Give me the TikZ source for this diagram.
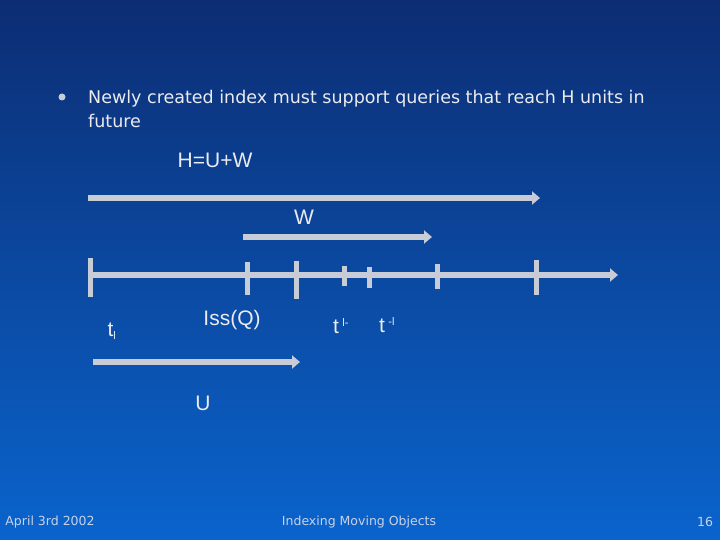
\documentclass[tikz,border=0pt]{standalone}
\usepackage{fontspec}
\setmainfont{Liberation Sans}
\newfontfamily\verd{DejaVu Sans}
\begin{document}
\begin{tikzpicture}[x=1pt,y=-1pt,
  arr/.style={line width=6.5pt,draw=barc,-{Triangle[length=8pt,width=13pt]}},
  tick/.style={line width=5pt,draw=barc},
  lab/.style={text=labc,font=\fontsize{21}{23}\selectfont,inner sep=0pt},
  foot/.style={text=footc,font=\verd\fontsize{12.5}{13}\selectfont,inner sep=0pt}]
\usetikzlibrary{arrows.meta}
\definecolor{barc}{RGB}{200,204,214}
\definecolor{labc}{RGB}{235,235,240}
\definecolor{footc}{RGB}{200,210,230}
\definecolor{topc}{RGB}{12,45,115}
\definecolor{botc}{RGB}{10,100,205}
\useasboundingbox (0,0) rectangle (720,540);
\shade[top color=topc,bottom color=botc] (0,0) rectangle (720,540);
\node[fill=barc,minimum size=7pt,inner sep=0pt,circle] (bul) at (62,97) {};
\node[lab,anchor=west,align=left,font=\verd\fontsize{17.5}{24}\selectfont] (t1) at (88,109) {Newly created index must support queries that reach H units in\\future};
\node[lab] (hw) at (215,160) {H=U+W};
\coordinate (a1s) at (88,198); \coordinate (a1e) at (540,198);
\draw[arr] (a1s) -- (a1e);
\node[lab] (w) at (304,217) {W};
\coordinate (a2s) at (243,237); \coordinate (a2e) at (432,237);
\draw[arr] (a2s) -- (a2e);
\coordinate (ls) at (88,275); \coordinate (le) at (618,275);
\draw[arr] (ls) -- (le);
\foreach \x/\a/\b in {90/258/297,247/262/295,296/261/299,344/266/286,369/267/288,437/264/289,536/260/295}
  \draw[tick] (\x,\a) -- (\x,\b);
\node[lab] (tl) at (112,331) {t\textsubscript{\fontsize{11}{11}\selectfont l}};
\node[lab] (iss) at (232,320) {Iss(Q)};
\node[lab] (tl2) at (341,326) {t\,\textsuperscript{\fontsize{11}{11}\selectfont l-}};
\node[lab] (tl3) at (387,325) {t\,\textsuperscript{\fontsize{11}{11}\selectfont -l}};
\coordinate (a3s) at (93,362); \coordinate (a3e) at (300,362);
\draw[arr] (a3s) -- (a3e);
\node[lab] (u) at (203,403) {U};
\node[foot] (f1) at (50,522) {April 3rd 2002};
\node[foot] (f2) at (359,522) {Indexing Moving Objects};
\node[foot] (f3) at (705,522) {16};
\end{tikzpicture}
\end{document}
